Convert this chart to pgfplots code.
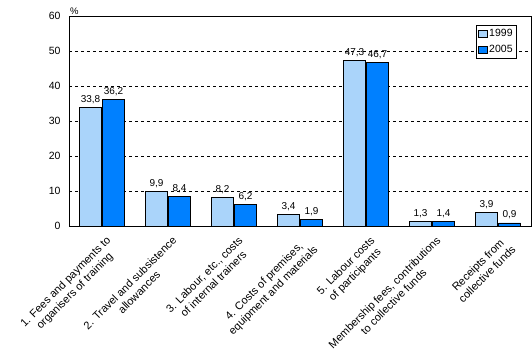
\documentclass[border=0pt]{standalone}
\usepackage{pgfplots}
\pgfplotsset{compat=1.18}
\usepackage{fontspec}
\setmainfont{Liberation Sans}
\definecolor{lightb}{RGB}{170,212,250}
\definecolor{darkb}{RGB}{0,128,255}
\begin{document}
\begin{tikzpicture}
\path[use as bounding box] (-69pt,-134pt) rectangle (463pt,226pt);
\begin{axis}[
  at={(0,0)}, anchor=south west,
  scale only axis, width=462pt, height=210pt,
  ybar=1pt, bar width=22pt,
  xmin=-0.5, xmax=6.5, ymin=0, ymax=60,
  ytick={0,10,...,60},
  xtick={0,...,6},
  xticklabels={{1. Fees and payments to\\organisers of training},
    {2. Travel and subsistence\\allowances},
    {3. Labour, etc., costs\\of internal trainers},
    {4. Costs of premises,\\equipment and materials},
    {5. Labour costs\\of participants},
    {Membership fees, contributions\\to collective funds},
    {Receipts from\\collective funds}},
  xticklabel style={rotate=45, anchor=north east, align=center, font=\fontsize{11}{13}\selectfont, inner sep=1pt, yshift=-5pt},
  major x tick style={draw=none},
  major y tick style={draw=none},
  yticklabel style={font=\fontsize{10.5}{12}\selectfont, xshift=-5pt},
  /pgf/number format/assume math mode=true,
  ymajorgrids, grid style={black, dash pattern=on 3pt off 3pt, line width=0.6pt},
  axis line style={black, line width=0.8pt},
  nodes near coords,
  nodes near coords style={font=\fontsize{10}{11}\selectfont, /pgf/number format/.cd, fixed, fixed zerofill, precision=1, use comma},
  legend style={at={([xshift=-14pt,yshift=-9pt]rel axis cs:1,1)}, anchor=north east, draw=black, line width=0.8pt, font=\fontsize{10.5}{12}\selectfont, row sep=3pt, inner sep=2pt},
  legend image code/.code={\draw[#1] (0cm,-0.12cm) rectangle (0.3cm,0.12cm);},
  clip=false,
]
\addplot[fill=lightb, draw=black, line width=0.6pt] coordinates {(0,33.8) (1,9.9) (2,8.2) (3,3.4) (4,47.3) (5,1.3) (6,3.9)};
\addplot[fill=darkb, draw=black, line width=0.6pt] coordinates {(0,36.2) (1,8.4) (2,6.2) (3,1.9) (4,46.7) (5,1.4) (6,0.9)};
\legend{1999,2005}
\node[anchor=south west, font=\fontsize{9.5}{10}\selectfont, inner sep=1pt] at (rel axis cs:0,1) {\%};
\end{axis}
\end{tikzpicture}
\end{document}
